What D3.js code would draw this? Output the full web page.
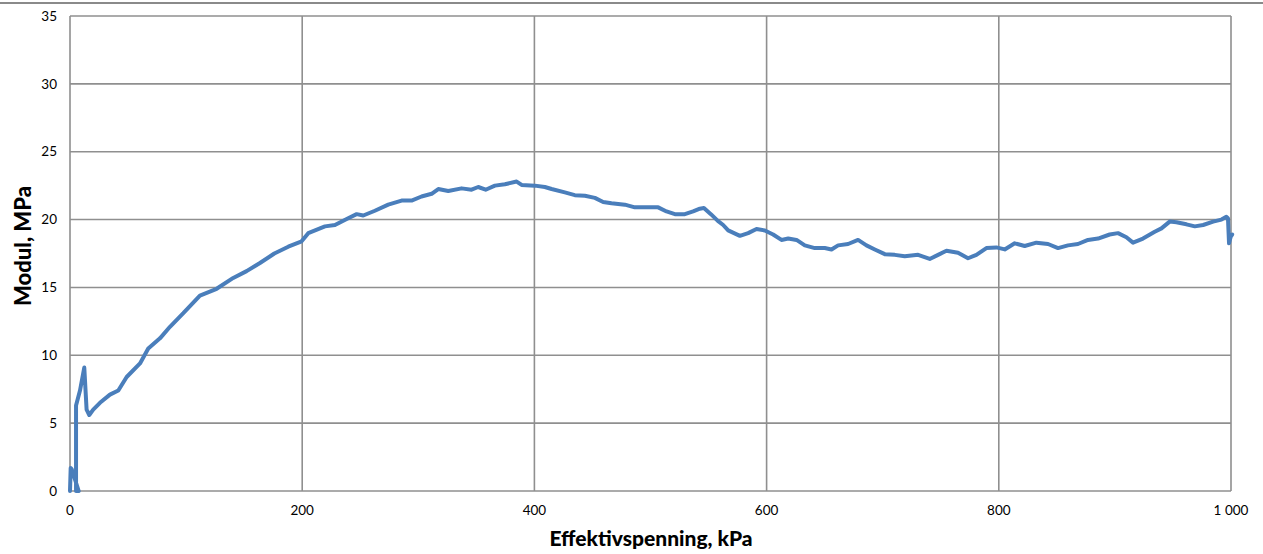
<!DOCTYPE html>
<html>
<head>
<meta charset="utf-8">
<script src="https://cdn.jsdelivr.net/npm/d3@7"></script>
<style>
  html, body { margin: 0; padding: 0; background: #fff; }
  svg { display: block; }
</style>
</head>
<body>
<svg id="chart" width="1263" height="554"></svg>
<script>
// Effective stress (kPa) and modulus (MPa) measurements
const kpa = [0, 0.6, 1.5, 7.5, 5.2, 5.2, 8.6, 12.3, 14.3, 16.6, 20, 25.8, 34.4, 41.6, 48.8, 60.3, 67.4, 77.5, 86.1, 97.6,
  111.9, 126.3, 140.6, 152.1, 163.6, 176, 188, 199.5, 205.2, 219.6, 228.2, 239.6, 246.9, 252.6, 262.6, 274.1, 285.6,
  294.2, 302.8, 311.5, 317.2, 325.8, 337.3, 345.9, 351.6, 358, 366, 374.6, 384.7, 389, 400.4, 409, 414.8, 426.2, 434.8,
  443.5, 452.1, 459.2, 466.4, 477.9, 486.5, 495.1, 506.6, 513.8, 521, 529.6, 536.7, 542.5, 546, 552, 558, 562.6, 566.9,
  577, 584.1, 591.3, 598.5, 605.6, 612.8, 618.6, 625.8, 632.9, 641.5, 650.1, 655.9, 661.6, 670.2, 678.8, 686, 693.2,
  701.8, 710.4, 719, 730.5, 740.5, 747.7, 754.9, 764.9, 773.5, 780.7, 789.3, 797.9, 805.1, 813.7, 822.3, 832.4, 842.4,
  851, 859.6, 868.2, 876.8, 885.5, 895.5, 902.7, 909.9, 915.6, 924.2, 934.3, 940.1, 947.2, 953, 961.6, 968.8, 976,
  984.6, 991.8, 996, 997.4, 998.3, 999.8, 1001];
const modul = [0, 1.7, 1.6, 0, 0, 6.3, 7.4, 9.1, 6.0, 5.6, 6.0, 6.5, 7.1, 7.4, 8.4, 9.4, 10.5, 11.25, 12.1, 13.1,
  14.4, 14.9, 15.7, 16.2, 16.8, 17.5, 18.0, 18.4, 19.0, 19.5, 19.6, 20.1, 20.4, 20.3, 20.65, 21.1, 21.4,
  21.4, 21.7, 21.9, 22.25, 22.1, 22.3, 22.2, 22.4, 22.2, 22.5, 22.6, 22.8, 22.55, 22.5, 22.4, 22.25, 22.0, 21.8,
  21.75, 21.6, 21.3, 21.2, 21.1, 20.9, 20.9, 20.9, 20.6, 20.4, 20.4, 20.6, 20.8, 20.85, 20.4, 19.9, 19.6, 19.2,
  18.8, 19.0, 19.3, 19.2, 18.9, 18.5, 18.6, 18.5, 18.1, 17.9, 17.9, 17.8, 18.1, 18.2, 18.5, 18.1, 17.8,
  17.45, 17.4, 17.3, 17.4, 17.1, 17.4, 17.7, 17.55, 17.15, 17.4, 17.9, 17.95, 17.8, 18.25, 18.05, 18.3, 18.2,
  17.9, 18.1, 18.2, 18.5, 18.6, 18.9, 19.0, 18.7, 18.3, 18.6, 19.1, 19.35, 19.85, 19.8, 19.65, 19.5, 19.6,
  19.85, 20.0, 20.2, 20.1, 18.25, 18.75, 18.9];

const xTicks = [0, 200, 400, 600, 800, 1000];
const xTickLabels = ["0", "200", "400", "600", "800", "1 000"];
const yTicks = [0, 5, 10, 15, 20, 25, 30, 35];
const xTitle = "Effektivspenning, kPa";
const yTitle = "Modul, MPa";

const svg = d3.select("#chart");
const W = 1263;
const plot = { left: 70, right: 1231, top: 16, bottom: 491 };

const x = d3.scaleLinear().domain([0, 1000]).range([plot.left, plot.right]);
const y = d3.scaleLinear().domain([0, 35]).range([plot.bottom, plot.top]);

const gridColor = "#8f8f8f";
const font = "Lato, 'Open Sans', sans-serif";

// thin rule across the top of the page
svg.append("line")
  .attr("x1", 0).attr("x2", W).attr("y1", 3).attr("y2", 3)
  .attr("stroke", "#8a8a8a").attr("stroke-width", 2);

// horizontal gridlines
svg.append("g").selectAll("line").data(yTicks).join("line")
  .attr("x1", plot.left).attr("x2", plot.right)
  .attr("y1", d => y(d)).attr("y2", d => y(d))
  .attr("stroke", gridColor).attr("stroke-width", 1.6);

// vertical gridlines (including the left axis and right border)
svg.append("g").selectAll("line").data(xTicks).join("line")
  .attr("x1", d => x(d)).attr("x2", d => x(d))
  .attr("y1", plot.top).attr("y2", plot.bottom)
  .attr("stroke", gridColor).attr("stroke-width", 1.6);

// y tick labels
svg.append("g").selectAll("text").data(yTicks).join("text")
  .attr("x", plot.left - 13).attr("y", d => y(d))
  .attr("dy", "0.35em").attr("text-anchor", "end")
  .attr("font-family", font).attr("font-size", 13.5).attr("fill", "#000")
  .text(d => d);

// x tick labels
svg.append("g").selectAll("text").data(xTicks).join("text")
  .attr("x", d => x(d)).attr("y", plot.bottom + 19)
  .attr("dy", "0.35em").attr("text-anchor", "middle")
  .attr("font-family", font).attr("font-size", 13.5).attr("fill", "#000")
  .text((d, i) => xTickLabels[i]);

// axis titles
svg.append("text")
  .attr("x", 651).attr("y", 539)
  .attr("dy", "0.35em").attr("text-anchor", "middle")
  .attr("font-family", font).attr("font-weight", "900").attr("font-size", 21)
  .text(xTitle);

svg.append("text")
  .attr("transform", `translate(23, 246) rotate(-90)`)
  .attr("dy", "0.35em").attr("text-anchor", "middle")
  .attr("font-family", font).attr("font-weight", "900").attr("font-size", 22)
  .text(yTitle);

// modulus curve
const pts = kpa.map((k, i) => [k, modul[i]]);
const line = d3.line().curve(d3.curveLinear).x(d => x(d[0])).y(d => y(d[1]));
svg.append("path")
  .datum(pts)
  .attr("d", line)
  .attr("fill", "none")
  .attr("stroke", "#4a7ebb")
  .attr("stroke-width", 4)
  .attr("stroke-linejoin", "round")
  .attr("stroke-linecap", "round");
</script>
</body>
</html>
